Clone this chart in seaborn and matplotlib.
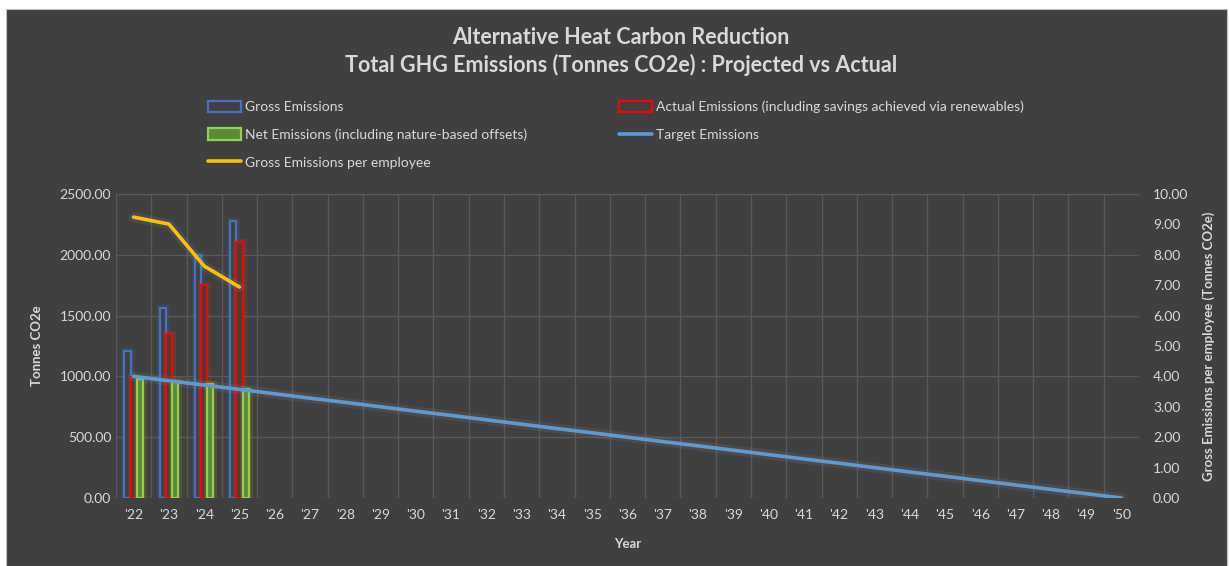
import numpy as np
import pandas as pd
import matplotlib
matplotlib.use("Agg")
import matplotlib.pyplot as plt
import matplotlib.patheffects as pe
from matplotlib.patches import Rectangle, Patch
from matplotlib.lines import Line2D
import seaborn as sns

# Data
years = ["'%02d" % y for y in range(22, 51)]
bar_years = ["'22", "'23", "'24", "'25"]
gross = [1210, 1562, 2000, 2278]
actual = [995, 1350, 1752, 2105]
net = [978, 956, 937, 895]
target = [1000, 964, 929, 893, 857, 821, 786, 750, 714, 679, 643, 607, 571, 536, 500,
          464, 429, 393, 357, 321, 286, 250, 214, 179, 143, 107, 71, 36, 0]
per_employee = [9.24, 9.01, 7.63, 6.94]

series_names = ["Gross Emissions",
                "Actual Emissions (including savings achieved via renewables)",
                "Net Emissions (including nature-based offsets)"]

BG = "#404040"
TXT = "#d9d9d9"
GRID = "#595959"

sns.set_style("dark")
plt.rcParams["font.family"] = ["Lato", "DejaVu Sans"]

rows = []
for name, vals in zip(series_names, [gross, actual, net]):
    for yr, v in zip(bar_years, vals):
        rows.append({"Year": yr, "Series": name, "Value": v})
df = pd.DataFrame(rows)

fig = plt.figure(figsize=(12.29, 5.66), dpi=100)
fig.patch.set_facecolor("white")
fig.patches.append(Rectangle((6 / 1229, 0), 1221 / 1229, 1 - 9 / 566,
                             transform=fig.transFigure, facecolor=BG,
                             edgecolor="#bfbfbf", linewidth=0.8, zorder=-10))

ax = fig.add_axes([116 / 1229, 1 - 498 / 566, (1139 - 116) / 1229, (498 - 194) / 566])
ax.set_facecolor(BG)

sns.barplot(data=df, x="Year", y="Value", hue="Series", hue_order=series_names,
            order=years, width=0.52, ax=ax, legend=False, saturation=1)

styles = [(BG, "#4472c4"), (BG, "#ff0000"), ("#5a8a38", "#92d050")]
glows = ["#4472c4", "#c55a11", "#bfbf00"]
for cont, (fc, ec), gc in zip(ax.containers, styles, glows):
    for p in cont:
        p.set_facecolor(fc)
        p.set_edgecolor(ec)
        p.set_linewidth(1.6)
        p.set_path_effects([pe.Stroke(linewidth=5, foreground=gc, alpha=0.15), pe.Normal()])

x_all = np.arange(len(years))
sns.lineplot(x=x_all, y=target, ax=ax, color="#5b9bd5", linewidth=2.6,
             path_effects=[pe.Stroke(linewidth=7, foreground="#8c8c8c", alpha=0.15), pe.Normal()])

ax.set_xlim(-0.5, len(years) - 0.5)
ax.set_ylim(0, 2500)
ax.set_yticks(np.arange(0, 2501, 500))
ax.set_yticklabels(["%.2f" % v for v in np.arange(0, 2501, 500)])
ax.set_xticks(x_all)
ax.set_xticklabels(years)
ax.set_xticks(np.arange(-0.5, len(years), 1), minor=True)
ax.grid(True, which="minor", axis="x", color=GRID, linewidth=1)
ax.grid(True, which="major", axis="y", color=GRID, linewidth=1)
ax.grid(False, which="major", axis="x")
ax.set_axisbelow(True)
ax.tick_params(axis="both", which="both", length=0, colors=TXT, labelsize=10)
ax.tick_params(axis="x", pad=8)
ax.set_xlabel("Year", color=TXT, fontsize=9.5, fontweight="bold", labelpad=12)
ax.set_ylabel("Tonnes CO2e", color=TXT, fontsize=9.5, fontweight="bold", labelpad=12)
for s in ax.spines.values():
    s.set_visible(False)

ax2 = ax.twinx()
sns.lineplot(x=np.arange(len(per_employee)), y=per_employee, ax=ax2, color="#ffc000",
             linewidth=2.6,
             path_effects=[pe.Stroke(linewidth=7, foreground="#5b9bd5", alpha=0.15), pe.Normal()])
ax2.set_ylim(0, 10)
ax2.set_yticks(np.arange(0, 10.01, 1))
ax2.set_yticklabels(["%.2f" % v for v in np.arange(0, 10.01, 1)])
ax2.tick_params(axis="y", length=0, colors=TXT, labelsize=10, pad=10)
ax2.set_ylabel("Gross Emissions per employee (Tonnes CO2e)", color=TXT, fontsize=9.5,
               fontweight="bold", labelpad=10)
ax2.grid(False)
for s in ax2.spines.values():
    s.set_visible(False)

fig.text(0.505, 1 - 37 / 566, "Alternative Heat Carbon Reduction", ha="center", va="center",
         color=TXT, fontsize=15.5, fontweight="bold")
fig.text(0.505, 1 - 65 / 566, "Total GHG Emissions (Tonnes CO2e) : Projected vs Actual",
         ha="center", va="center", color=TXT, fontsize=15.5, fontweight="bold")

handles = [
    Patch(facecolor=BG, edgecolor="#4472c4", linewidth=1.6),
    Patch(facecolor="#5a8a38", edgecolor="#92d050", linewidth=1.6),
    Line2D([], [], color="#ffc000", linewidth=2.6),
    Patch(facecolor=BG, edgecolor="#ff0000", linewidth=1.6),
    Line2D([], [], color="#5b9bd5", linewidth=2.6),
]
labels = ["Gross Emissions", "Net Emissions (including nature-based offsets)",
          "Gross Emissions per employee",
          "Actual Emissions (including savings achieved via renewables)", "Target Emissions"]
leg = fig.legend(handles, labels, ncol=2, loc="upper left",
                 bbox_to_anchor=(195 / 1229, 1 - 88 / 566), frameon=False,
                 fontsize=10, labelcolor=TXT, handlelength=2.4, handleheight=0.9,
                 handletextpad=0.3, columnspacing=6.6, labelspacing=1.1)

fig.savefig("out.png", dpi=100, facecolor=fig.get_facecolor())
